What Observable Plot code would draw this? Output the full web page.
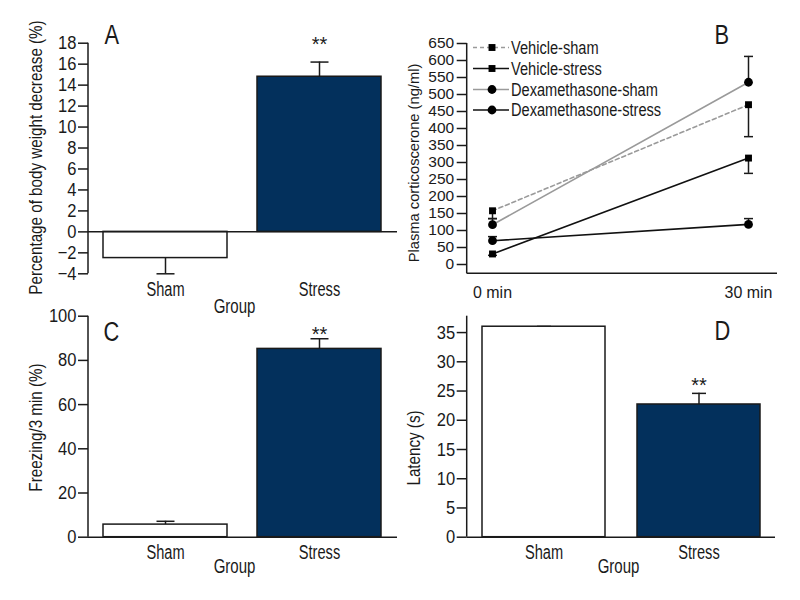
<!DOCTYPE html>
<html><head><meta charset="utf-8">
<script src="https://cdn.jsdelivr.net/npm/d3@7"></script>
<script src="https://cdn.jsdelivr.net/npm/@observablehq/plot@0.6"></script>
<style>
body{margin:0;background:#fff;}
#fig{position:relative;width:800px;height:600px;overflow:hidden;background:#fff;}
.panel{position:absolute;}
</style></head><body><div id="fig"></div>
<script>
const FONT = '"Liberation Sans", Arial, sans-serif';
const NAVY = "#03305c";
const INK = "#1a1a1a";

// ---- Bar panels (A, C, D) ----
const groups = ["Sham", "Stress"];
const significance = ["", "**"];
const bodyWeightDecrease = [-2.5, 14.8];
const bodyWeightSEM = [1.5, 1.4];
const freezing = [5.7, 85.2];
const freezingSEM = [1.5, 4.6];
const latency = [36.0, 22.7];
const latencySEM = [0.05, 1.9];

// ---- Line panel (B) ----
const timesMin = [0, 30];
const seriesNames = ["Vehicle-sham", "Vehicle-stress", "Dexamethasone-sham", "Dexamethasone-stress"];
const vehicleSham = [158, 470];
const vehicleShamSEM = [23, 94];
const vehicleStress = [31, 313];
const vehicleStressSEM = [4, 45];
const dexSham = [117, 536];
const dexShamSEM = [18, 76];
const dexStress = [70, 118];
const dexStressSEM = [12, 17];
const errorSide = [-1, -1, 1, 1]; // error bar drawn below (-1) or above (+1) the mean
const yTicksB = d3.range(0, 651, 50);

const capSymbol = w => ({draw(ctx) { ctx.moveTo(-w / 2, 0); ctx.lineTo(w / 2, 0); }});

function place(el, left, top) {
  const div = document.createElement("div");
  div.className = "panel";
  div.style.left = left + "px";
  div.style.top = top + "px";
  div.appendChild(el);
  document.getElementById("fig").appendChild(div);
}
function line(svg, x1, y1, x2, y2, sw = 1.5) {
  d3.select(svg).append("line").attr("x1", x1).attr("y1", y1).attr("x2", x2).attr("y2", y2)
    .attr("stroke", INK).attr("stroke-width", sw);
}
// horizontally condense labelled texts (narrow typeface look)
function condense(svg, map) {
  svg.querySelectorAll("text").forEach(t => {
    let lab = null;
    const gd = t.closest("g[aria-description]");
    if (gd && gd.getAttribute("aria-description") in map) lab = gd.getAttribute("aria-description");
    else { const g = t.closest("g[aria-label]"); lab = g ? g.getAttribute("aria-label") : null; }
    const s = map[lab];
    if (!s) return;
    let tr = t.getAttribute("transform") || "";
    const x = t.getAttribute("x");
    if (x !== null && !isNaN(+x)) { tr += ` translate(${+x},0)`; t.removeAttribute("x"); }
    t.setAttribute("transform", tr + ` scale(${s},1)`);
  });
}
const at = (txt, px, py, m, opts) => Plot.text([txt], {
  frameAnchor: "top-left", dx: px - m.left, dy: py - m.top, text: d => d,
  fill: INK, textAnchor: "middle", lineAnchor: "middle", ...opts
});

function barPanel(cfg) {
  const m = cfg.m;
  const rows = groups.map((g, i) => ({
    group: g, value: cfg.values[i],
    bound: cfg.values[i] + Math.sign(cfg.values[i]) * cfg.sem[i],
    sig: significance[i]
  }));
  const svg = Plot.plot({
    width: 400, height: cfg.height,
    marginLeft: m.left, marginRight: m.right, marginTop: m.top, marginBottom: m.bottom,
    style: {fontFamily: FONT, fontSize: "18px", color: INK, background: "transparent", overflow: "visible"},
    x: {domain: groups, paddingInner: cfg.pi, paddingOuter: cfg.po, axis: null},
    y: {domain: cfg.yDomain, axis: null},
    color: {domain: groups, range: ["#ffffff", NAVY]},
    marks: [
      Plot.ruleX(rows, {x: "group", y1: "value", y2: "bound", stroke: INK, strokeWidth: 1.5}),
      Plot.dot(rows, {x: "group", y: "bound", symbol: capSymbol(cfg.cap), r: 5, stroke: INK, strokeWidth: 1.5, fill: "none"}),
      Plot.barY(rows, {x: "group", y: "value", fill: "group", stroke: INK, strokeWidth: 1.5}),
      Plot.ruleY([0], {stroke: INK, strokeWidth: 1.5}),
      Plot.axisY({ticks: cfg.yTicks, tickSize: 10, tickPadding: 2, fontSize: 19, strokeWidth: 1.5, label: null}),
      Plot.axisX({tickSize: 0, tickPadding: 8, fontSize: 19.5, label: null}),
      Plot.text(rows, {x: "group", y: "bound", text: "sig", fontSize: 20, dy: cfg.sigDy, lineAnchor: "middle", fill: INK}),
      at("Group", cfg.group[0], cfg.group[1], m, {fontSize: 19.5, ariaDescription: "group-label"}),
      at(cfg.ylabel, cfg.title[0], cfg.title[1], m, {fontSize: 19, rotate: -90, ariaDescription: "y-title"}),
      at(cfg.letter, cfg.letterPos[0], cfg.letterPos[1], m, {fontSize: 28, textAnchor: "start", lineAnchor: "bottom", ariaDescription: "letter"})
    ]
  });
  line(svg, m.left, m.top, m.left, cfg.height - m.bottom);
  condense(svg, {"y-axis tick label": 0.87, "x-axis tick label": 0.75, "group-label": 0.77, "y-title": 0.8, "letter": 0.78});
  place(svg, cfg.left, cfg.top);
}

barPanel({
  left: 0, top: 0, height: 310,
  m: {left: 88, right: 3, top: 42.7, bottom: 36.7},
  values: bodyWeightDecrease, sem: bodyWeightSEM,
  yDomain: [-4, 18], yTicks: d3.range(-4, 19, 2),
  pi: 0.194, po: 0.094, cap: 18, sigDy: -17,
  ylabel: "Percentage of body weight decrease (%)", title: [35, 157],
  group: [234, 306], letter: "A", letterPos: [104, 43]
});
barPanel({
  left: 0, top: 300, height: 300,
  m: {left: 88, right: 3, top: 15.7, bottom: 63.3},
  values: freezing, sem: freezingSEM,
  yDomain: [0, 100], yTicks: d3.range(0, 101, 20),
  pi: 0.194, po: 0.094, cap: 18, sigDy: -4,
  ylabel: "Freezing/3 min (%)", title: [35, 127],
  group: [234, 266.7], letter: "C", letterPos: [103, 40]
});
barPanel({
  left: 400, top: 300, height: 300,
  m: {left: 66.7, right: 25, top: 15.7, bottom: 63.3},
  values: latency, sem: latencySEM,
  yDomain: [0, 37.8], yTicks: d3.range(0, 36, 5),
  pi: 0.206, po: 0.094, cap: 14, sigDy: -8,
  ylabel: "Latency (s)", title: [13, 147.5],
  group: [218, 266.7], letter: "D", letterPos: [314, 39]
});

// ---- Panel B ----
(function () {
  const m = {left: 66.7, right: 23, top: 43, bottom: 36.7};
  const H = 310;
  const means = [vehicleSham, vehicleStress, dexSham, dexStress];
  const sems = [vehicleShamSEM, vehicleStressSEM, dexShamSEM, dexStressSEM];
  const styles = [
    {stroke: "#9a9a9a", dash: "4,3", symbol: "square", r: 3.9},
    {stroke: "#111111", dash: null, symbol: "square", r: 3.9},
    {stroke: "#9a9a9a", dash: null, symbol: "circle", r: 4.4},
    {stroke: "#111111", dash: null, symbol: "circle", r: 4.4}
  ];
  const rows = [];
  seriesNames.forEach((s, k) => timesMin.forEach((t, i) => rows.push({
    series: s, k, min: t, value: means[k][i], bound: means[k][i] + errorSide[k] * sems[k][i]
  })));
  const marks = [];
  seriesNames.forEach((s, k) => {
    const st = styles[k];
    marks.push(Plot.line(rows.filter(d => d.k === k), {x: "min", y: "value", stroke: st.stroke, strokeWidth: 1.6, strokeDasharray: st.dash}));
  });
  marks.push(
    Plot.ruleX(rows, {x: "min", y1: "value", y2: "bound", stroke: INK, strokeWidth: 1.5}),
    Plot.dot(rows, {x: "min", y: "bound", symbol: capSymbol(9), r: 5, stroke: INK, strokeWidth: 1.5, fill: "none"})
  );
  seriesNames.forEach((s, k) => {
    const st = styles[k];
    marks.push(Plot.dot(rows.filter(d => d.k === k), {x: "min", y: "value", symbol: st.symbol, r: st.r, fill: "#000", stroke: "none"}));
  });
  marks.push(
    Plot.axisY({ticks: yTicksB, tickSize: 10, tickPadding: 3, fontSize: 15.5, strokeWidth: 1.5, label: null}),
    Plot.axisX({ticks: timesMin, tickFormat: d => `${d} min`, tickSize: 0, tickPadding: 12, fontSize: 17, label: null}),
    at("Plasma corticoscerone (ng/ml)", 13.5, 162.5, m, {fontSize: 15.5, rotate: -90, ariaDescription: "y-title"}),
    at("B", 314, 43, m, {fontSize: 28, textAnchor: "start", lineAnchor: "bottom", ariaDescription: "letter"})
  );
  const svg = Plot.plot({
    width: 400, height: H,
    marginLeft: m.left, marginRight: m.right, marginTop: m.top, marginBottom: m.bottom,
    style: {fontFamily: FONT, fontSize: "15px", color: INK, background: "transparent", overflow: "visible"},
    x: {domain: [0, 30], range: [92, 348], axis: null},
    y: {domain: [0, 650], range: [264, 43], axis: null},
    marks
  });
  line(svg, m.left, m.top, m.left, H - m.bottom);
  line(svg, m.left, H - m.bottom, 400 - m.right, H - m.bottom);
  // legend
  const lg = d3.select(svg).append("g").attr("aria-label", "legend")
    .attr("font-family", FONT).attr("font-size", 18.5).attr("text-anchor", "start");
  const rowY = [47.5, 68.5, 89.5, 110];
  seriesNames.forEach((s, k) => {
    const st = styles[k];
    const y = rowY[k];
    lg.append("line").attr("x1", 73).attr("x2", 109).attr("y1", y).attr("y2", y)
      .attr("stroke", st.stroke).attr("stroke-width", 1.6).attr("stroke-dasharray", st.dash);
    lg.append("path").attr("transform", `translate(92,${y})`)
      .attr("d", d3.symbol(st.symbol === "square" ? d3.symbolSquare : d3.symbolCircle, Math.PI * st.r * st.r)())
      .attr("fill", "#000");
    lg.append("text").attr("transform", `translate(111,${y})`).attr("dy", "0.35em").attr("fill", INK).text(s);
  });
  condense(svg, {"y-axis tick label": 1, "x-axis tick label": 0.94, "y-title": 0.95, "letter": 0.78, "legend": 0.79});
  place(svg, 400, 0);
})();
</script></body></html>
